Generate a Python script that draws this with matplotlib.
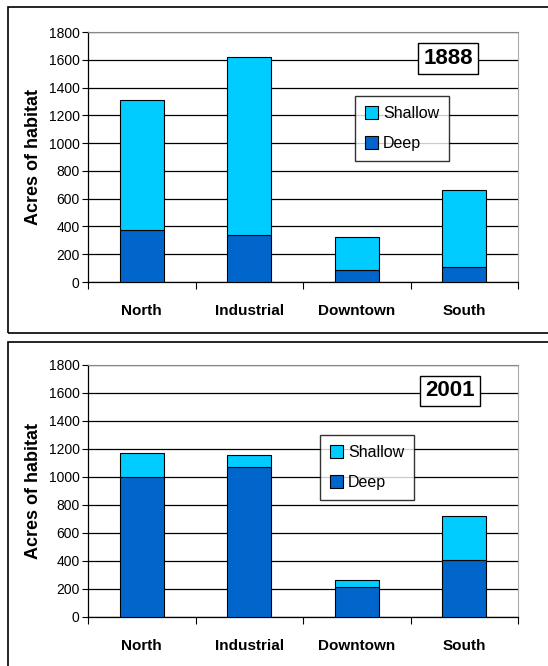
import matplotlib.pyplot as plt
from matplotlib.patches import Rectangle

plt.rcParams['font.family'] = ['Liberation Sans', 'DejaVu Sans']

regions = ['North', 'Industrial', 'Downtown', 'South']
deep_1888 = [375, 340, 90, 105]
shallow_1888 = [935, 1280, 235, 560]
deep_2001 = [1000, 1075, 215, 405]
shallow_2001 = [175, 85, 50, 320]
years = ['1888', '2001']

W, H = 548, 666
fig = plt.figure(figsize=(W / 100, H / 100), dpi=100)

# panel boxes (run off the right / bottom edge like the original)
fig.add_artist(Rectangle((8 / W, 1 - 333 / H), 560 / W, 326 / H,
                         transform=fig.transFigure, fill=False,
                         edgecolor='black', lw=1.2))
fig.add_artist(Rectangle((8 / W, 1 - 680 / H), 560 / W, 338 / H,
                         transform=fig.transFigure, fill=False,
                         edgecolor='black', lw=1.2))


def panel(top, bottom, deep, shallow, year, yr_box, leg_box):
    ax = fig.add_axes([88 / W, 1 - bottom / H, 430 / W, (bottom - top) / H])
    x = range(len(regions))
    ax.bar(x, deep, width=0.41, color='#0066CC', edgecolor='black',
           lw=0.8, label='Deep', zorder=3)
    ax.bar(x, shallow, width=0.41, bottom=deep, color='#00CCFF',
           edgecolor='black', lw=0.8, label='Shallow', zorder=3)
    ax.set_xlim(-0.5, 3.5)
    ax.set_ylim(0, 1800)
    ax.set_yticks(range(0, 1801, 200))
    ax.tick_params(axis='y', labelsize=10, length=4, width=0.8, pad=2)
    ax.set_xticks(x)
    ax.set_xticklabels(regions, fontsize=11, fontweight='bold')
    ax.tick_params(axis='x', length=0, pad=16)
    ax.set_xticks([-0.5, 0.5, 1.5, 2.5, 3.5], minor=True)
    ax.tick_params(axis='x', which='minor', length=5, width=0.8)
    ax.grid(axis='y', color='black', lw=0.9, zorder=0)
    ax.set_axisbelow(True)
    for s in ['left', 'bottom']:
        ax.spines[s].set_color('black')
        ax.spines[s].set_linewidth(0.9)
    ax.spines['top'].set_color('#888888')
    ax.spines['right'].set_color('#aaaaaa')
    ax.set_ylabel('Acres of habitat', fontsize=13, fontweight='bold',
                  labelpad=5)

    # year label box
    ax.text(yr_box[0], yr_box[1], year, transform=fig.transFigure,
            fontsize=16, fontweight='bold', ha='center', va='center',
            bbox=dict(boxstyle='square,pad=0.22', fc='white', ec='black',
                      lw=1.0), zorder=5)

    h, l = ax.get_legend_handles_labels()
    leg = ax.legend(h[::-1], l[::-1], loc='center',
                    bbox_to_anchor=leg_box, bbox_transform=fig.transFigure,
                    fontsize=11.5, frameon=True, fancybox=False,
                    edgecolor='black', handlelength=0.85, handleheight=0.85,
                    handletextpad=0.3, labelspacing=0.95, borderpad=0.6)
    leg.get_frame().set_linewidth(1.0)
    leg.set_zorder(5)
    return ax


panel(32, 282, deep_1888, shallow_1888, years[0],
      (448 / W, 1 - 58.5 / H), (402 / W, 1 - 128.5 / H))
panel(365, 617, deep_2001, shallow_2001, years[1],
      (450 / W, 1 - 391 / H), (367 / W, 1 - 467.5 / H))

fig.savefig('out.png', dpi=100)
